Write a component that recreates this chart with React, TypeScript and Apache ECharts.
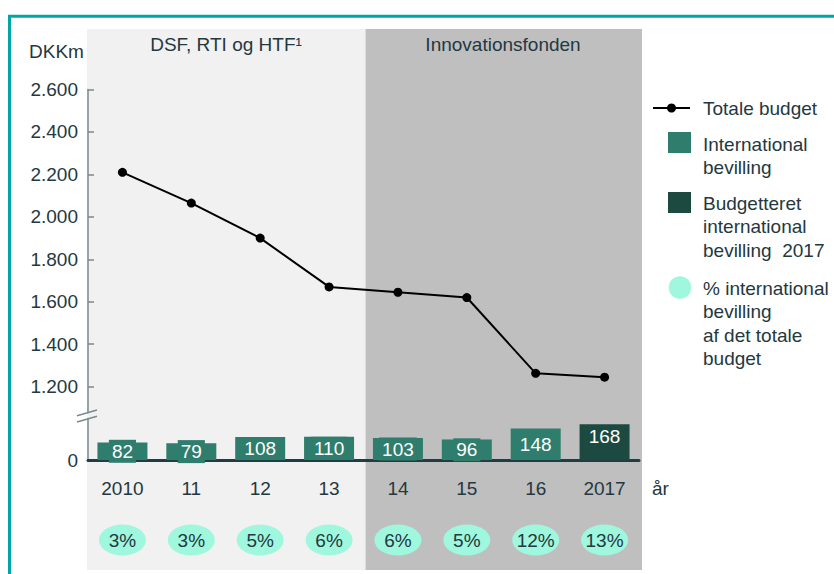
import React, { useEffect, useRef } from 'react';
import * as echarts from 'echarts';

const years = ['2010', '11', '12', '13', '14', '15', '16', '2017'];
const totalBudget = [2210, 2065, 1900, 1670, 1645, 1620, 1263, 1245];
const intlGrant: (number | string)[] = [82, 79, 108, 110, 103, 96, 148, '-'];
const budgetedIntl2017: (number | string)[] = ['-', '-', '-', '-', '-', '-', '-', 168];
const intlSharePct = [3, 3, 5, 6, 6, 5, 12, 13];
const yTicksTop = [1200, 1400, 1600, 1800, 2000, 2200, 2400, 2600];
const yTicksBottom = [0];
const panelTitles = ['DSF, RTI og HTF¹', 'Innovationsfonden'];
const legendNames = [
  'Totale budget',
  'International\nbevilling',
  'Budgetteret\ninternational\nbevilling  2017',
  '% international\nbevilling\naf det totale\nbudget',
];

const FONT = 'Liberation Sans, Arial, Helvetica, sans-serif';
const TXT = '#243840';
const AXIS = '#7b898e';
const BAR = '#2f7d6d';
const BAR_DARK = '#1d4a40';
const AQUA = '#9ff7de';

const fmt = (v: number) =>
  v >= 1000 ? `${Math.floor(v / 1000)}.${String(v % 1000).padStart(3, '0')}` : String(v);

export default function App() {
  const ref = useRef<HTMLDivElement>(null);
  useEffect(() => {
    if (!ref.current) return;
    const chart = echarts.init(ref.current, undefined, { renderer: 'svg' });
    const txt = (text: string, x: number, y: number, extra: any = {}) => ({
      type: 'text',
      x,
      y,
      z: 20,
      style: {
        text,
        fill: TXT,
        fontSize: 19,
        fontFamily: FONT,
        align: 'left',
        verticalAlign: 'middle',
        ...extra,
      },
    });
    const legendTxt = (text: string, firstCenter: number) =>
      txt(text, 703, firstCenter - 11.75, { verticalAlign: 'top', lineHeight: 23.5 });

    const option: any = {
      animation: false,
      textStyle: { fontFamily: FONT },
      grid: [
        { left: 88, right: 195, top: 89.5, height: 323 },
        { left: 88, right: 195, top: 419, height: 41 },
        { left: 88, right: 195, top: 525, height: 30 },
      ],
      xAxis: [
        { type: 'category', gridIndex: 0, data: years, show: false },
        {
          type: 'category',
          gridIndex: 1,
          data: years,
          axisLine: { lineStyle: { color: '#1e3d44', width: 3, cap: 'round' } },
          axisTick: { show: false },
          axisLabel: { margin: 19, fontSize: 19, color: TXT, fontFamily: FONT },
          z: 3,
        },
        { type: 'category', gridIndex: 2, data: years, show: false },
      ],
      yAxis: [
        {
          type: 'value',
          gridIndex: 0,
          min: 1078.5,
          max: 2600,
          splitLine: { show: false },
          axisLine: { show: true, lineStyle: { color: AXIS, width: 1.5 } },
          axisTick: {
            show: true,
            inside: true,
            length: 6,
            customValues: yTicksTop,
            lineStyle: { color: AXIS, width: 1.5 },
          },
          axisLabel: {
            customValues: yTicksTop,
            formatter: (v: number) => fmt(v),
            margin: 10,
            fontSize: 19,
            color: TXT,
            fontFamily: FONT,
          },
        },
        {
          type: 'value',
          gridIndex: 1,
          min: 0,
          max: 193,
          splitLine: { show: false },
          axisLine: { show: true, lineStyle: { color: AXIS, width: 1.5 } },
          axisTick: { show: false },
          axisLabel: {
            customValues: yTicksBottom,
            formatter: (v: number) => fmt(v),
            margin: 10,
            fontSize: 19,
            color: TXT,
            fontFamily: FONT,
          },
        },
        { type: 'value', gridIndex: 2, min: -1, max: 1, show: false },
      ],
      series: [
        {
          name: legendNames[0],
          type: 'line',
          xAxisIndex: 0,
          yAxisIndex: 0,
          data: totalBudget,
          symbol: 'circle',
          symbolSize: 9,
          itemStyle: { color: '#000' },
          lineStyle: { color: '#000', width: 2 },
          z: 5,
        },
        {
          name: legendNames[1],
          type: 'bar',
          xAxisIndex: 1,
          yAxisIndex: 1,
          stack: 'grant',
          barWidth: 50,
          data: intlGrant,
          itemStyle: { color: BAR },
          label: {
            show: true,
            position: 'inside',
            color: '#fff',
            fontSize: 19,
            fontFamily: FONT,
            backgroundColor: BAR,
            padding: [2, 3],
            lineHeight: 19,
          },
          z: 4,
        },
        {
          name: legendNames[2],
          type: 'bar',
          xAxisIndex: 1,
          yAxisIndex: 1,
          stack: 'grant',
          barWidth: 50,
          data: budgetedIntl2017,
          itemStyle: { color: BAR_DARK },
          label: {
            show: true,
            position: 'insideTop',
            distance: 3,
            color: '#fff',
            fontSize: 19,
            fontFamily: FONT,
            lineHeight: 19,
          },
          z: 4,
        },
        {
          name: legendNames[3],
          type: 'scatter',
          xAxisIndex: 2,
          yAxisIndex: 2,
          data: intlSharePct.map((p, i) => [i, 0, p]),
          symbol: 'path://M0,31A47,31,0,1,1,94,31A47,31,0,1,1,0,31Z',
          symbolSize: [47, 31],
          itemStyle: { color: AQUA, opacity: 1 },
          label: {
            show: true,
            position: 'inside',
            color: TXT,
            fontSize: 19,
            fontFamily: FONT,
            formatter: (p: any) => `${p.value[2]}%`,
          },
        },
      ],
      graphic: [
        {
          type: 'rect',
          z: -20,
          shape: { x: 9.5, y: 16.2, width: 1200, height: 1200 },
          style: { fill: 'none', stroke: '#00a6a6', lineWidth: 3 },
        },
        {
          type: 'rect',
          z: -10,
          shape: { x: 87, y: 29, width: 278.5, height: 541 },
          style: { fill: '#f1f1f1' },
        },
        {
          type: 'rect',
          z: -10,
          shape: { x: 365.5, y: 29, width: 276.5, height: 541 },
          style: { fill: '#bfbfbf' },
        },
        txt(panelTitles[0], 226, 44, { align: 'center' }),
        txt(panelTitles[1], 503, 44, { align: 'center' }),
        txt('DKKm', 29, 51),
        txt('år', 652, 488),
        {
          type: 'line',
          z: 20,
          shape: { x1: 77, y1: 415.7, x2: 97, y2: 410 },
          style: { stroke: AXIS, lineWidth: 1.5 },
        },
        {
          type: 'line',
          z: 20,
          shape: { x1: 77, y1: 422, x2: 97, y2: 416.3 },
          style: { stroke: AXIS, lineWidth: 1.5 },
        },
        // legend
        {
          type: 'line',
          z: 20,
          shape: { x1: 653, y1: 108, x2: 690, y2: 108 },
          style: { stroke: '#000', lineWidth: 2 },
        },
        {
          type: 'circle',
          z: 21,
          shape: { cx: 671.5, cy: 108, r: 4.5 },
          style: { fill: '#000' },
        },
        txt(legendNames[0], 703, 108),
        {
          type: 'rect',
          z: 20,
          shape: { x: 668, y: 132, width: 23, height: 21 },
          style: { fill: BAR },
        },
        legendTxt(legendNames[1], 144),
        {
          type: 'rect',
          z: 20,
          shape: { x: 668, y: 192, width: 23, height: 21 },
          style: { fill: BAR_DARK },
        },
        legendTxt(legendNames[2], 203),
        {
          type: 'circle',
          z: 20,
          shape: { cx: 680, cy: 287.5, r: 11.3 },
          style: { fill: AQUA },
        },
        legendTxt(legendNames[3], 288),
      ],
    };
    chart.setOption(option);
    return () => chart.dispose();
  }, []);
  return (
    <div
      ref={ref}
      style={{ position: 'fixed', left: 0, top: 0, width: 834, height: 574, background: '#fff' }}
    />
  );
}
